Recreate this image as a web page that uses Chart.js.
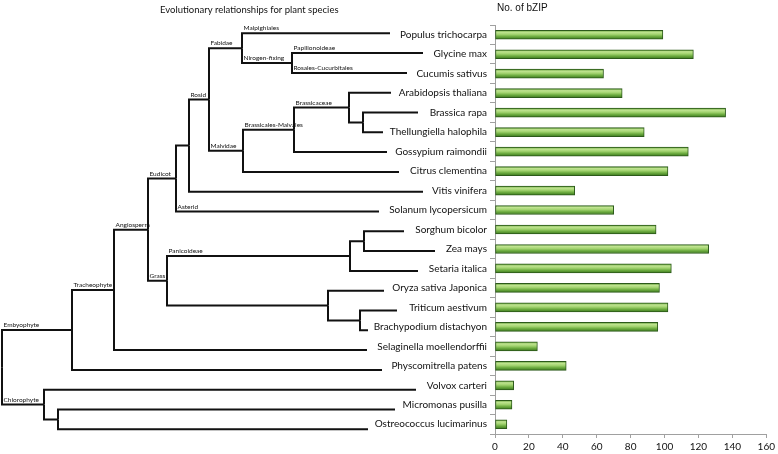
<!DOCTYPE html>
<html>
<head>
<meta charset="utf-8">
<script src="https://cdn.jsdelivr.net/npm/chart.js@4/dist/chart.umd.min.js"></script>
<style>
html, body { margin: 0; padding: 0; background: #fff; }
#wrap { position: relative; width: 778px; height: 454px; }
#wrap canvas { position: absolute; left: 0; top: 0; }
</style>
</head>
<body>
<div id="wrap">
  <canvas id="bars" width="778" height="454"></canvas>
  <canvas id="tree" width="490" height="454"></canvas>
</div>
<script>
// species, top to bottom
const species = [
    'Populus trichocarpa', 'Glycine max', 'Cucumis sativus', 'Arabidopsis thaliana',
    'Brassica rapa', 'Thellungiella halophila', 'Gossypium raimondii', 'Citrus clementina',
    'Vitis vinifera', 'Solanum lycopersicum', 'Sorghum bicolor', 'Zea mays',
    'Setaria italica', 'Oryza sativa Japonica', 'Triticum aestivum', 'Brachypodium distachyon',
    'Selaginella moellendorffii', 'Physcomitrella patens', 'Volvox carteri',
    'Micromonas pusilla', 'Ostreococcus lucimarinus'
];
const bzipCounts = [99, 117, 64, 75, 136, 88, 114, 102, 47, 70, 95, 126, 104, 97, 102, 96, 25, 42, 11, 10, 7];

// tree: leaves (one per species) hang off a clade, at a tip depth
const leafParent = ['fab', 'nit', 'nit', 'bra', 'br2', 'br2', 'bm', 'mal', 'u1', 'eud', 'pn2', 'pn2',
    'pan', 'g2', 'g3', 'g3', 'tra', 'emb', 'chl', 'ch2', 'ch2'];
const leafDepth = [390, 423, 407, 391, 418, 383, 387, 399, 423, 379, 404, 435,
    418, 384, 397, 368, 367, 382, 416, 395, 368];
const leafClade = ['Malpighiales', 'Papilionoideae', 'Rosales-Cucurbitales', '', '', '', '', '',
    '', 'Asterid', '', '', '', '', '', '', '', '', '', '', ''];

// internal clades
const cladeIds    = ['root', 'emb', 'tra', 'ang', 'eud', 'u1', 'ros', 'fab', 'nit', 'mal', 'bm', 'bra', 'br2', 'grs', 'pan', 'pn2', 'g2', 'g3', 'chl', 'ch2'];
const cladeParent = [null, 'root', 'emb', 'tra', 'ang', 'eud', 'u1', 'ros', 'fab', 'ros', 'mal', 'bm', 'bra', 'ang', 'grs', 'pan', 'grs', 'g2', 'root', 'chl'];
const cladeDepth  = [2, 72, 114, 148, 176, 189, 209, 242, 292, 243, 294, 349, 363, 167, 350, 364, 328, 360, 44, 58];
const cladeLabel  = ['', 'Embyophyte', 'Tracheophyte', 'Angiosperm', 'Eudicot', '', 'Rosid', 'Fabidae',
    'Nirogen-fixing', 'Malvidae', 'Brassicales-Malvales', 'Brassicaceae', '', 'Grass', 'Panicoideae',
    '', '', '', 'Chlorophyte', ''];

const xMax = 160;
const xStep = 20;

const treeFont = 'Lato, "Open Sans", sans-serif';

// ---------- build tree nodes ----------
const nodes = {};
cladeIds.forEach((id, i) => {
    nodes[id] = { id, parent: cladeParent[i], depth: cladeDepth[i], label: cladeLabel[i], kids: [] };
});
species.forEach((name, i) => {
    const id = 'leaf' + i;
    nodes[id] = { id, parent: leafParent[i], depth: leafDepth[i], label: leafClade[i], row: i, kids: [] };
});
Object.values(nodes).forEach(n => { if (n.parent) nodes[n.parent].kids.push(n); });

// a clade sits halfway between its first and last child
function rowOf(n) {
    if (n.row !== undefined) return n.row;
    const rows = n.kids.map(rowOf);
    n.row = (Math.min(...rows) + Math.max(...rows)) / 2;
    return n.row;
}
rowOf(nodes.root);

// one elbow per branch: along the parent's line, then across to the node
const branchSets = Object.values(nodes).filter(n => n.parent).map(n => {
    const p = nodes[n.parent];
    return {
        data: [
            { x: p.depth, y: p.row },
            { x: p.depth, y: n.row },
            { x: n.depth, y: n.row }
        ],
        showLine: true,
        borderColor: '#111',
        borderWidth: 2,
        pointRadius: 0,
        tension: 0,
        borderJoinStyle: 'miter',
        borderCapStyle: 'butt'
    };
});

const cladeLabelPlugin = {
    id: 'cladeLabels',
    afterDatasetsDraw(chart) {
        const { ctx, scales: { x, y } } = chart;
        ctx.save();
        ctx.font = '6.5px ' + treeFont;
        ctx.fillStyle = '#111';
        ctx.textAlign = 'left';
        ctx.textBaseline = 'alphabetic';
        Object.values(nodes).forEach(n => {
            if (!n.label || !n.parent) return;
            const p = nodes[n.parent];
            ctx.fillText(n.label, x.getPixelForValue(p.depth) + 1.5, y.getPixelForValue(n.row) - 3);
        });
        ctx.restore();
    }
};

new Chart(document.getElementById('tree'), {
    type: 'scatter',
    data: { datasets: branchSets },
    options: {
        responsive: false,
        animation: false,
        layout: { padding: 0 },
        plugins: { legend: { display: false }, tooltip: { enabled: false } },
        scales: {
            x: { type: 'linear', display: false, min: 0, max: 490 },
            y: { type: 'linear', display: false, reverse: true, min: -1.682, max: 21.247 }
        }
    },
    plugins: [cladeLabelPlugin]
});

// ---------- bar chart ----------
const barThickness = 9;

function barFill(context) {
    const chart = context.chart;
    const { ctx, chartArea, scales } = chart;
    if (!chartArea || !scales.y) return '#8cc063';
    const yc = scales.y.getPixelForValue(context.dataIndex);
    const h = barThickness / 2;
    const g = ctx.createLinearGradient(0, yc - h, 0, yc + h);
    g.addColorStop(0, '#5d9b34');
    g.addColorStop(0.22, '#bfe390');
    g.addColorStop(0.45, '#a3d470');
    g.addColorStop(0.7, '#6dac40');
    g.addColorStop(1, '#3c781e');
    return g;
}

const titlesPlugin = {
    id: 'titles',
    afterDraw(chart) {
        const ctx = chart.ctx;
        ctx.save();
        ctx.fillStyle = '#111';
        ctx.textBaseline = 'middle';
        ctx.textAlign = 'left';
        ctx.font = '9.5px ' + treeFont;
        ctx.fillText('Evolutionary relationships for plant species', 160, 10);
        ctx.font = '10px "Liberation Sans", Arial, sans-serif';
        ctx.fillText('No. of bZIP', 497, 8);
        ctx.restore();
    }
};

new Chart(document.getElementById('bars'), {
    type: 'bar',
    data: {
        labels: species,
        datasets: [{
            data: bzipCounts,
            backgroundColor: barFill,
            borderColor: '#2c5a1a',
            borderWidth: 1,
            borderSkipped: false,
            barThickness: barThickness
        }]
    },
    options: {
        indexAxis: 'y',
        responsive: false,
        animation: false,
        layout: { padding: { top: 25, right: 9, left: 0, bottom: 0 } },
        plugins: { legend: { display: false }, tooltip: { enabled: false } },
        scales: {
            x: {
                min: 0,
                max: xMax,
                ticks: { stepSize: xStep, color: '#111', padding: 3, font: { family: treeFont, size: 10 } },
                grid: { drawOnChartArea: false, tickLength: 4, color: '#a0a0a0' },
                border: { color: '#a0a0a0' },
                afterFit: s => { s.height = 20; }
            },
            y: {
                ticks: { color: '#111', padding: 3, font: { family: treeFont, size: 10 } },
                grid: { drawOnChartArea: false, tickLength: 5, color: '#a0a0a0', offset: true },
                border: { color: '#a0a0a0' },
                afterFit: s => { s.width = 495; }
            }
        }
    },
    plugins: [titlesPlugin]
});
</script>
</body>
</html>
